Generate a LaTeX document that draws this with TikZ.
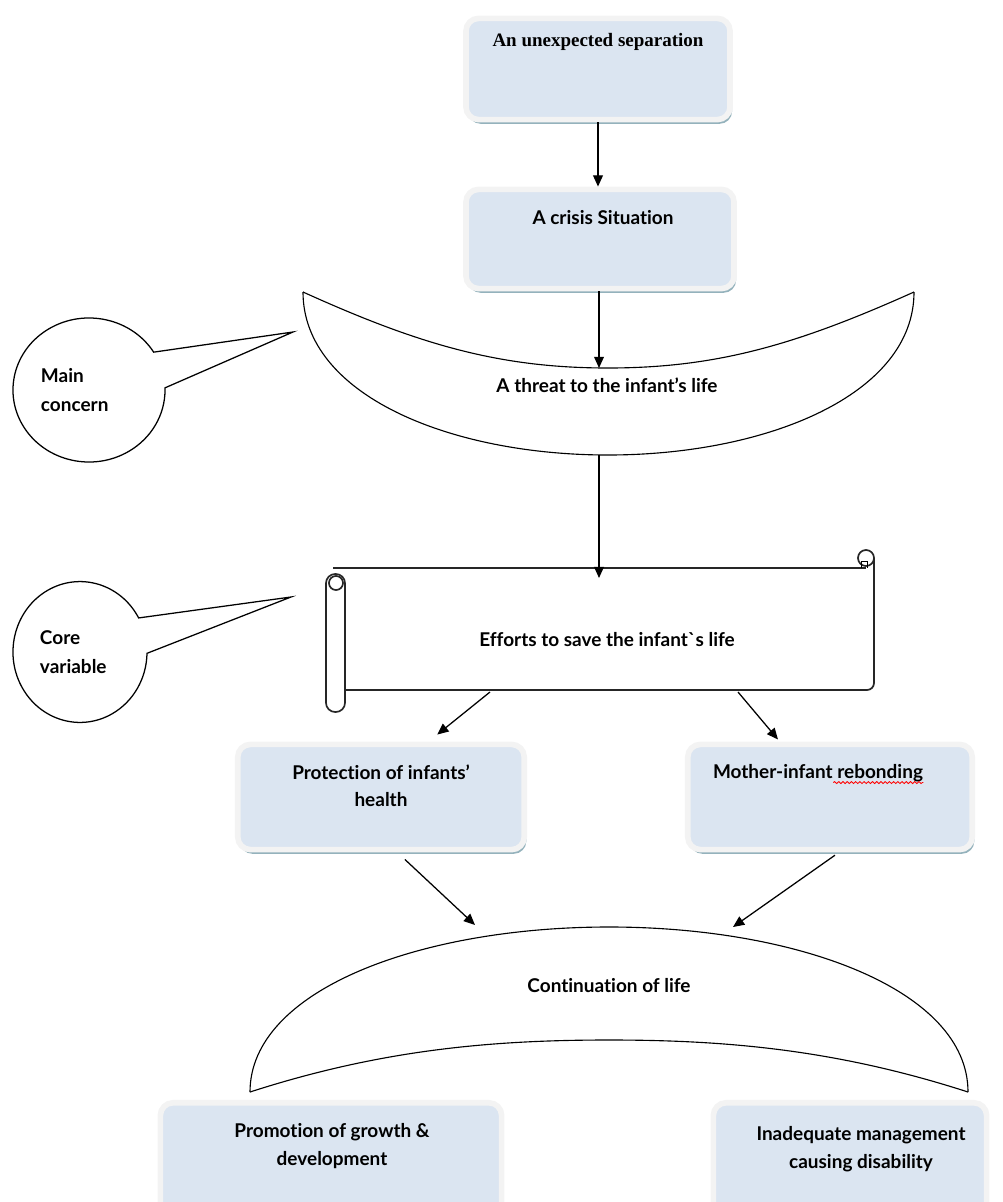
\documentclass[tikz,border=0pt]{standalone}
\usepackage{fontspec}
\setmainfont{Lato}[Ligatures={TeX,NoCommon}]
\newfontfamily\timesfont{Liberation Serif}
\usetikzlibrary{arrows.meta,shadows,shapes.callouts,decorations.pathmorphing,positioning}

\definecolor{boxblue}{RGB}{219,229,241}
\definecolor{boxrim}{RGB}{243,243,243}
\definecolor{boxshade}{RGB}{148,178,188}

\tikzset{
  stagebox/.style={draw=boxrim, line width=4pt, fill=boxblue, rounded corners=9pt,
    inner sep=0pt, drop shadow={shadow xshift=1.5pt, shadow yshift=-3pt, fill=boxshade, opacity=1}},
  stagetext/.style={font=\bfseries\fontsize{13.5}{19.5}\selectfont, align=center, inner sep=0pt},
  flow/.style={-{Triangle[length=8pt,width=7pt]}, line width=0.9pt},
  shapeline/.style={line width=0.8pt},
  scrollline/.style={line width=1.2pt, draw=black!85},
  talk/.style={ellipse callout, draw, line width=0.9pt, fill=white, callout pointer arc=30,
    align=left, font=\bfseries\fontsize{13.5}{21}\selectfont},
  spell/.style={red, line width=0.6pt, decorate, decoration={snake, amplitude=0.7pt, segment length=3pt}}
}

\begin{document}
\begin{tikzpicture}[x=0.025cm,y=-0.025cm]
\useasboundingbox (0,0) rectangle (1003,1202);

% boxes
\node[stagebox, minimum width=6.6cm, minimum height=2.53cm] (sep) at (598,69) {};
\node[stagebox, minimum width=6.7cm, minimum height=2.48cm] (crisis) at (600,239) {};
\node[stagebox, minimum width=7.16cm, minimum height=2.63cm] (protect) at (381,797) {};
\node[stagebox, minimum width=7.11cm, minimum height=2.63cm] (rebond) at (830,797) {};
\node[stagebox, minimum width=8.53cm, minimum height=2.86cm] (promote) at (331,1160) {};
\node[stagebox, minimum width=6.83cm, minimum height=2.86cm] (inadeq) at (850,1160) {};

\node[stagetext, font=\timesfont\bfseries\fontsize{13.5}{16}\selectfont] (sept) at (598,42) {An unexpected separation};
\node[stagetext] (crisist) at (603,218) {A crisis Situation};
\node[stagetext] (protectt) at (381,786) {Protection of infants'\\health};
\node[stagetext] (rebondt) at (818,773) {Mother-infant rebonding};
\draw[spell] ([xshift=-64pt,yshift=-3pt]rebondt.base east) -- ([yshift=-3pt]rebondt.base east);
\node[stagetext] (promotet) at (332,1146) {Promotion of growth \&\\development};
\node[stagetext] (inadeqt) at (861,1149) {Inadequate management\\causing disability};

% threat
\draw[shapeline] (303,292) .. controls (420,345) and (500,368) .. (608,368)
  .. controls (716,368) and (796,345) .. (914,292);
\draw[shapeline] (303,292) .. controls (303,395) and (450,455) .. (608,455)
  .. controls (766,455) and (914,395) .. (914,292);
\node[stagetext] (threat) at (607,385) {A threat to the infant’s life};

% continuation
\draw[shapeline] (250,1092) .. controls (250,990) and (420,927) .. (609,927)
  .. controls (798,927) and (968,990) .. (968,1092);
\draw[shapeline] (250,1092) .. controls (380,1050) and (490,1040) .. (609,1040)
  .. controls (728,1040) and (838,1050) .. (968,1092);
\node[stagetext] (cont) at (609,986) {Continuation of life};

% scroll
\draw[scrollline] (333,568) -- (866,568);
\draw[scrollline, rounded corners=5pt] (874,558) -- (874,690) -- (345,690);
\draw[scrollline, fill=white] (866,558) circle[radius=5.7pt];
\draw[line width=0.6pt] (861,568) -- (861,561) -- (867,561) -- (867,568);
\draw[scrollline, fill=white, rounded corners=6.5pt] (326,574) rectangle (345,712);
\draw[scrollline] (336,583) circle[radius=5pt];
\node[stagetext] (efforts) at (607,640) {Efforts to save the infant\textasciigrave s life};

% callouts
\node[talk, text width=2.4cm, minimum width=3.8cm, minimum height=3.6cm, callout absolute pointer={(293,332)}] (mainc) at (89,390) {Main\\concern};
\node[talk, text width=2cm, minimum width=3.35cm, minimum height=3.52cm, callout absolute pointer={(291,597)}] (corev) at (80,652) {Core\\variable};

% arrows
\coordinate (threattop) at (599,368);
\coordinate (threatbot) at (599,455);
\coordinate (effortstop) at (599,578);
\coordinate (effortsL) at (490,692);
\coordinate (effortsR) at (738,692);
\coordinate (contL) at (475,925);
\coordinate (contR) at (733,927);
\draw[flow] (sep.south) -- (sep.south |- crisis.north);
\draw[flow] (crisis.south -| threattop) -- (threattop);
\draw[flow] (threatbot) -- (effortstop);
\draw[flow] (effortsL) -- ([xshift=40pt,yshift=5pt]protect.north);
\draw[flow] (effortsR) -- ([xshift=-37pt,yshift=1.5pt]rebond.north);
\draw[flow] ([xshift=17pt,yshift=-5pt]protect.south) -- (contL);
\draw[flow] ([xshift=3.5pt,yshift=-2pt]rebond.south) -- (contR);
\end{tikzpicture}
\end{document}
